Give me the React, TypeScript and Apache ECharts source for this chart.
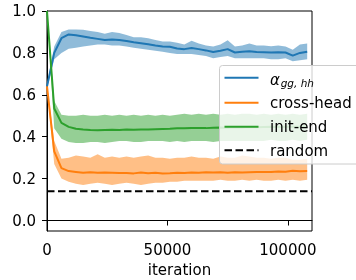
import React, { useEffect, useRef } from "react";
import * as echarts from "echarts";

const iterations = [
  0, 3000, 6000, 9000, 12000, 15000, 18000, 21000, 24000, 27000, 30000, 33000,
  36000, 39000, 42000, 45000, 48000, 51000, 54000, 57000, 60000, 63000, 66000,
  69000, 72000, 75000, 78000, 81000, 84000, 87000, 90000, 93000, 96000, 99000,
  102000, 105000, 108000,
];

const alphaMean = [
  0.64, 0.8, 0.87, 0.888, 0.884, 0.878, 0.872, 0.867, 0.862, 0.864, 0.862, 0.857,
  0.851, 0.846, 0.841, 0.835, 0.831, 0.829, 0.821, 0.818, 0.823, 0.818, 0.812,
  0.804, 0.81, 0.818, 0.802, 0.806, 0.808, 0.804, 0.803, 0.802, 0.803, 0.802,
  0.787, 0.8, 0.806,
];
const alphaLow = [
  0.63, 0.77, 0.8, 0.82, 0.825, 0.83, 0.835, 0.84, 0.84, 0.835, 0.835, 0.83,
  0.825, 0.82, 0.815, 0.81, 0.805, 0.8, 0.795, 0.795, 0.795, 0.79, 0.785, 0.775,
  0.78, 0.785, 0.775, 0.775, 0.775, 0.775, 0.775, 0.77, 0.77, 0.775, 0.76, 0.765,
  0.77,
];
const alphaHigh = [
  0.65, 0.83, 0.9, 0.912, 0.912, 0.91, 0.905, 0.9, 0.892, 0.9, 0.895, 0.885,
  0.875, 0.875, 0.87, 0.862, 0.855, 0.855, 0.848, 0.84, 0.858, 0.845, 0.835,
  0.83, 0.84, 0.86, 0.83, 0.835, 0.845, 0.835, 0.835, 0.832, 0.835, 0.83, 0.815,
  0.84, 0.845,
];

const crossMean = [
  0.64, 0.33, 0.25, 0.236, 0.232, 0.228, 0.23, 0.228, 0.229, 0.228, 0.227, 0.227,
  0.225, 0.229, 0.226, 0.228, 0.225, 0.226, 0.228, 0.227, 0.229, 0.228, 0.23,
  0.229, 0.23, 0.228, 0.23, 0.229, 0.23, 0.231, 0.232, 0.232, 0.234, 0.233,
  0.237, 0.235, 0.236,
];
const crossLow = [
  0.63, 0.27, 0.2, 0.185, 0.175, 0.17, 0.175, 0.18, 0.175, 0.17, 0.175, 0.18,
  0.175, 0.17, 0.175, 0.18, 0.18, 0.185, 0.185, 0.19, 0.19, 0.19, 0.19, 0.19,
  0.195, 0.19, 0.19, 0.195, 0.19, 0.195, 0.19, 0.19, 0.195, 0.19, 0.195, 0.19,
  0.195,
];
const crossHigh = [
  0.65, 0.38, 0.295, 0.3, 0.31, 0.305, 0.3, 0.316, 0.3, 0.305, 0.3, 0.305, 0.3,
  0.305, 0.31, 0.3, 0.3, 0.295, 0.3, 0.3, 0.305, 0.3, 0.3, 0.295, 0.305, 0.3,
  0.3, 0.31, 0.305, 0.3, 0.3, 0.295, 0.3, 0.3, 0.29, 0.29, 0.295,
];

const initMean = [
  1.0, 0.535, 0.466, 0.447, 0.438, 0.434, 0.432, 0.431, 0.432, 0.433, 0.432,
  0.434, 0.433, 0.435, 0.434, 0.436, 0.437, 0.438, 0.44, 0.44, 0.441, 0.442,
  0.441, 0.443, 0.444, 0.443, 0.445, 0.444, 0.446, 0.445, 0.446, 0.447, 0.446,
  0.447, 0.448, 0.447, 0.448,
];
const initLow = [
  1.0, 0.44, 0.39, 0.375, 0.37, 0.37, 0.375, 0.375, 0.37, 0.375, 0.38, 0.38,
  0.375, 0.375, 0.38, 0.38, 0.38, 0.375, 0.38, 0.375, 0.38, 0.38, 0.38, 0.375,
  0.38, 0.38, 0.38, 0.38, 0.38, 0.38, 0.38, 0.385, 0.38, 0.38, 0.385, 0.38,
  0.385,
];
const initHigh = [
  1.0, 0.57, 0.505, 0.5, 0.5, 0.505, 0.5, 0.5, 0.505, 0.5, 0.505, 0.5, 0.505,
  0.5, 0.505, 0.5, 0.505, 0.5, 0.505, 0.51, 0.505, 0.51, 0.505, 0.51, 0.505,
  0.51, 0.505, 0.51, 0.51, 0.505, 0.51, 0.505, 0.51, 0.505, 0.51, 0.505, 0.51,
];

const randomLevel = 0.14;
const randomSpan = [0, 110000];

const yTicks = [0, 0.2, 0.4, 0.6, 0.8, 1.0];

const legendLabels = ["cross-head", "init-end", "random"];

const FONT = "DejaVu Sans";
const BLUE = "#1f77b4";
const ORANGE = "#ff7f0e";
const GREEN = "#2ca02c";
const BLUE_BAND = "rgba(31,119,180,0.5)";
const ORANGE_BAND = "rgba(255,127,14,0.5)";
const GREEN_BAND = "rgba(44,160,44,0.5)";

function bandSeries(name: string, low: number[], high: number[], fill: string) {
  return {
    type: "custom",
    name: name + "-band",
    silent: true,
    z: 1,
    data: iterations.map((x, i) => [x, low[i], high[i]]),
    encode: { x: 0, y: [1, 2] },
    renderItem: (params: any, api: any) => {
      if (params.dataIndex !== 0) return null;
      const upper = iterations.map((x, i) => api.coord([x, high[i]]));
      const lower = iterations.map((x, i) => api.coord([x, low[i]])).reverse();
      return {
        type: "polygon",
        shape: { points: upper.concat(lower) },
        style: { fill },
      };
    },
  };
}

function lineSeries(name: string, vals: number[], color: string) {
  return {
    type: "line",
    name,
    data: iterations.map((x, i) => [x, vals[i]]),
    symbol: "none",
    lineStyle: { color, width: 2 },
    z: 3,
  };
}

export default function App() {
  const ref = useRef<HTMLDivElement>(null);
  useEffect(() => {
    if (!ref.current) return;
    const chart = echarts.init(ref.current, undefined, { renderer: "svg" });
    const lx1 = 224.5;
    const lx2 = 258.5;
    const tx = 270;
    const rows = [77.7, 102.7, 126.7, 150.3];
    const Z = 100;
    chart.setOption({
      animation: false,
      grid: {
        left: 47,
        top: 11,
        width: 265,
        height: 220,
        outerBoundsMode: "none",
        containLabel: false,
        show: true,
        borderColor: "#000",
        borderWidth: 1,
        backgroundColor: "transparent",
      },
      xAxis: {
        type: "value",
        min: 0,
        max: 110000,
        interval: 50000,
        name: "iteration",
        nameLocation: "middle",
        nameGap: 31,
        nameTextStyle: { fontSize: 15, color: "#000", fontFamily: FONT },
        axisLine: { show: true, lineStyle: { color: "#000", width: 1 } },
        axisTick: { show: true, inside: false, length: 5, lineStyle: { color: "#000" } },
        axisLabel: {
          fontSize: 15,
          color: "#000",
          fontFamily: FONT,
          margin: 11,
          formatter: (v: number) => String(v),
        },
        splitLine: { show: false },
      },
      yAxis: {
        type: "value",
        min: -0.05,
        max: 1.0,
        axisLine: { show: true, lineStyle: { color: "#000", width: 1 } },
        axisTick: {
          show: true,
          inside: false,
          length: 5,
          lineStyle: { color: "#000" },
          customValues: yTicks,
        },
        axisLabel: {
          fontSize: 15,
          color: "#000",
          fontFamily: FONT,
          margin: 11,
          customValues: yTicks,
          formatter: (v: number) => v.toFixed(1),
        },
        splitLine: { show: false },
      },
      series: [
        bandSeries("alpha", alphaLow, alphaHigh, BLUE_BAND),
        lineSeries("alpha", alphaMean, BLUE),
        bandSeries("cross", crossLow, crossHigh, ORANGE_BAND),
        lineSeries("cross-head", crossMean, ORANGE),
        bandSeries("init", initLow, initHigh, GREEN_BAND),
        lineSeries("init-end", initMean, GREEN),
        {
          type: "line",
          name: "random",
          data: randomSpan.map((x) => [x, randomLevel]),
          symbol: "none",
          lineStyle: { color: "#000", width: 2, type: [7.5, 3.5] },
          z: 4,
        },
      ],
      graphic: [
        {
          type: "rect",
          z: Z,
          shape: { x: 219.5, y: 65.5, width: 140, height: 98.5, r: 3 },
          style: { fill: "rgba(255,255,255,0.8)", stroke: "#cccccc", lineWidth: 1 },
        },
        {
          type: "line",
          z: Z + 1,
          shape: { x1: lx1, y1: rows[0], x2: lx2, y2: rows[0] },
          style: { stroke: BLUE, lineWidth: 2 },
        },
        {
          type: "line",
          z: Z + 1,
          shape: { x1: lx1, y1: rows[1], x2: lx2, y2: rows[1] },
          style: { stroke: ORANGE, lineWidth: 2 },
        },
        {
          type: "line",
          z: Z + 1,
          shape: { x1: lx1, y1: rows[2], x2: lx2, y2: rows[2] },
          style: { stroke: GREEN, lineWidth: 2 },
        },
        {
          type: "line",
          z: Z + 1,
          shape: { x1: lx1, y1: rows[3], x2: lx2, y2: rows[3] },
          style: { stroke: "#000", lineWidth: 2, lineDash: [7.5, 3.5] },
        },
        {
          type: "text",
          z: Z + 1,
          x: tx,
          y: 80.2,
          style: {
            text: "α",
            fontSize: 15,
            fontStyle: "italic",
            fontFamily: FONT,
            fill: "#000",
            verticalAlign: "middle",
            align: "left",
          },
        },
        {
          type: "text",
          z: Z + 1,
          x: 280.7,
          y: 83,
          style: {
            text: "gg, hh",
            fontSize: 10.5,
            fontStyle: "italic",
            fontFamily: FONT,
            fill: "#000",
            verticalAlign: "middle",
            align: "left",
          },
        },
        ...legendLabels.map((label, i) => ({
          type: "text",
          z: Z + 1,
          x: tx,
          y: rows[i + 1] + 0.3,
          style: {
            text: label,
            fontSize: 15,
            fontFamily: FONT,
            fill: "#000",
            verticalAlign: "middle",
            align: "left",
          },
        })),
      ],
    });
    return () => chart.dispose();
  }, []);
  return (
    <div
      ref={ref}
      style={{ position: "fixed", left: 0, top: 0, width: 356, height: 280 }}
    />
  );
}
